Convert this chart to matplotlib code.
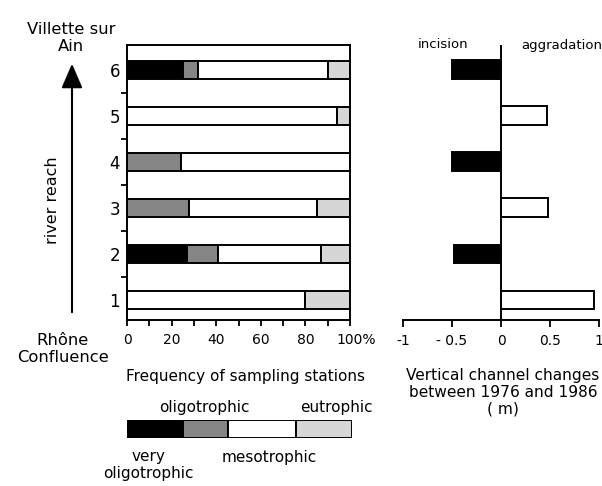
import numpy as np
import matplotlib
matplotlib.use("Agg")
import matplotlib.pyplot as plt
from matplotlib.patches import FancyArrowPatch, ArrowStyle
from matplotlib.transforms import ScaledTranslation

# ── data ──────────────────────────────────────────────────────────────────────
reaches = [1, 2, 3, 4, 5, 6]

# frequency of sampling stations per trophic class (%)
very_oligo = [0, 27, 0, 0, 0, 25]
oligo      = [0, 14, 28, 24, 0, 7]
meso       = [80, 46, 57, 76, 94, 58]
eutro      = [20, 13, 15, 0, 6, 10]

# vertical channel changes 1976-1986 (m)
channel_change = [0.95, -0.48, 0.48, -0.5, 0.47, -0.5]

classes      = ["very\noligotrophic", "oligotrophic", "mesotrophic", "eutrophic"]
class_colors = ["#000000", "#858585", "#ffffff", "#d6d6d6"]
legend_share = [25, 20, 30, 25]

pct_ticks   = [0, 20, 40, 60, 80, 100]
pct_labels  = ["0", "20", "40", "60", "80", "100%"]
chg_ticks   = [-1, -0.5, 0, 0.5, 1]
chg_labels  = ["-1", "- 0.5", "0", "0.5", "1"]

W, H = 602, 486
plt.rcParams["font.family"] = "DejaVu Sans"

EDGE_LW = 1.4


def fx(x):
    return x / W


def fy(y):
    return 1 - y / H


fig = plt.figure(figsize=(W / 100, H / 100), dpi=100)

# ── left panel: trophic classes per reach ─────────────────────────────────────
ax = fig.add_axes([fx(127), fy(320), fx(350) - fx(127), fy(45) - fy(320)])
left = np.zeros(len(reaches))
for vals, col in zip([very_oligo, oligo, meso, eutro], class_colors):
    ax.barh(reaches, vals, left=left, height=0.4, color=col,
            edgecolor="black", linewidth=EDGE_LW)
    left += np.array(vals)

ax.set_xlim(0, 100)
ax.set_ylim(0.565, 6.54)
ax.set_xticks(pct_ticks)
ax.set_xticklabels(pct_labels, fontsize=10)
ax.set_xticks(np.arange(0, 101, 10), minor=True)
ax.set_yticks(reaches)
ax.set_yticklabels([str(r) for r in reaches], fontsize=12)
ax.set_yticks(np.arange(1.5, 6, 1), minor=True)
ax.tick_params(axis="x", which="both", direction="out", length=4, width=1.3, pad=5)
ax.tick_params(axis="y", which="major", length=0, pad=5)
ax.tick_params(axis="y", which="minor", direction="out", length=4, width=1.3)
for s in ax.spines.values():
    s.set_linewidth(1.4)
# keep "100" centred on its tick, the % sign hangs to the right
last = ax.get_xticklabels()[-1]
last.set_transform(last.get_transform()
                   + ScaledTranslation(6.5 / 100, 0, fig.dpi_scale_trans))

# ── right panel: channel incision / aggradation ──────────────────────────────
ax2 = fig.add_axes([fx(403), fy(320), fx(599) - fx(403), fy(45) - fy(320)])
bar_cols = ["black" if v < 0 else "white" for v in channel_change]
ax2.barh(reaches, channel_change, height=0.41, color=bar_cols,
         edgecolor="black", linewidth=EDGE_LW)
ax2.axvline(0, color="black", lw=1.4)
ax2.set_xlim(-1, 1)
ax2.set_ylim(0.565, 6.54)
ax2.set_xticks(chg_ticks)
ax2.set_xticklabels(chg_labels, fontsize=10)
ax2.set_yticks([])
ax2.tick_params(axis="x", direction="out", length=5, width=1.3, pad=5)
for side in ["left", "right", "top"]:
    ax2.spines[side].set_visible(False)
ax2.spines["bottom"].set_linewidth(1.4)

fig.text(fx(443), fy(45), "incision", fontsize=9.5, ha="center", va="center")
fig.text(fx(562), fy(45), "aggradation", fontsize=9.5, ha="center", va="center")
fig.text(fx(503), fy(392),
         "Vertical channel changes\nbetween 1976 and 1986\n( m)",
         fontsize=11.1, ha="center", va="center", linespacing=1.15)

# ── reach direction arrow and end labels ─────────────────────────────────────
arrow = FancyArrowPatch(
    (fx(72), fy(315)), (fx(72), fy(61)), transform=fig.transFigure,
    arrowstyle=ArrowStyle("-|>", head_length=15, head_width=6.5),
    mutation_scale=1, lw=1.5, color="black",
)
fig.add_artist(arrow)
fig.text(fx(53), fy(200), "river reach", fontsize=11.5, rotation=90,
         ha="center", va="center")
fig.text(fx(71), fy(38), "Villette sur\nAin", fontsize=11.8,
         ha="center", va="center", linespacing=1.15)
fig.text(fx(63), fy(349), "Rhône\nConfluence", fontsize=11.8,
         ha="center", va="center", linespacing=1.15)

fig.text(fx(245), fy(377), "Frequency of sampling stations", fontsize=11,
         ha="center", va="center")

# ── class legend bar ─────────────────────────────────────────────────────────
lax = fig.add_axes([fx(127), fy(438), fx(352) - fx(127), fy(420) - fy(438)])
lax.barh([0], legend_share, left=np.cumsum([0] + legend_share[:-1]),
         height=1, color=class_colors, edgecolor="black", linewidth=EDGE_LW)
lax.set_xlim(0, 100)
lax.set_ylim(-0.5, 0.5)
lax.axis("off")

fig.text(fx(204), fy(407), classes[1], fontsize=11, ha="center", va="center")
fig.text(fx(336), fy(407), classes[3], fontsize=11, ha="center", va="center")
fig.text(fx(148), fy(465), classes[0], fontsize=11, ha="center", va="center",
         linespacing=1.15)
fig.text(fx(269), fy(457), classes[2], fontsize=11, ha="center", va="center")

fig.savefig("out.png", dpi=100)
